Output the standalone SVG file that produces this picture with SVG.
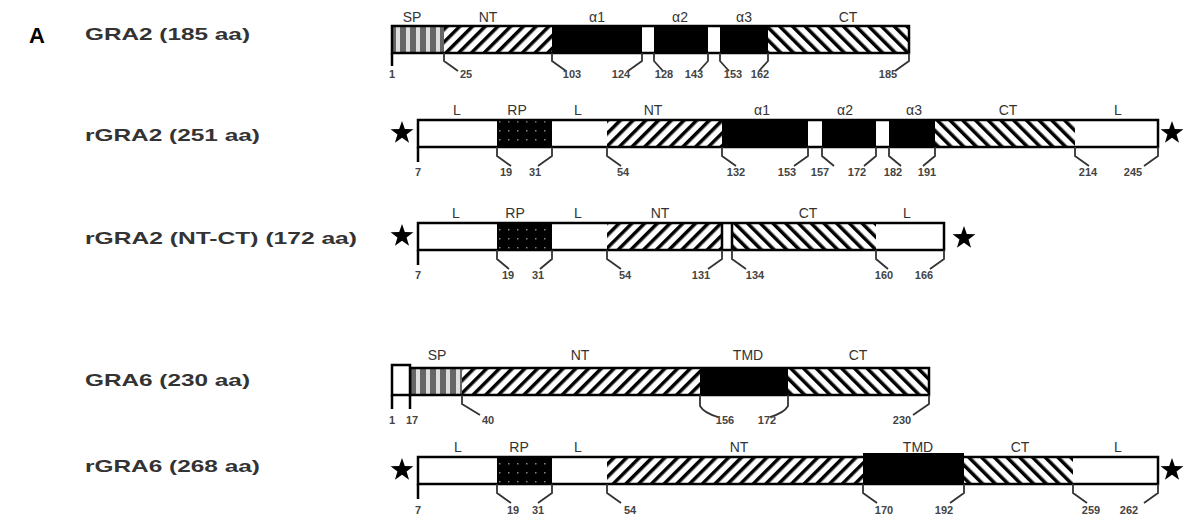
<svg xmlns="http://www.w3.org/2000/svg" xmlns:xlink="http://www.w3.org/1999/xlink" width="1192" height="523" viewBox="0 0 1192 523">
<style>
.title{font-family:"Liberation Sans",Arial,sans-serif;font-weight:bold;font-size:17px;fill:#333}
.lab{font-family:"Liberation Sans",Arial,sans-serif;font-size:14px;fill:#333;text-anchor:middle}
.num{font-family:"Liberation Sans",Arial,sans-serif;font-weight:bold;font-size:11px;fill:#444;text-anchor:middle}
.box{stroke:#000;stroke-width:2.5}
.tick{fill:none;stroke:#333;stroke-width:1.8}
.vt{fill:none;stroke:#000;stroke-width:2.5}
</style>
<defs>
<pattern id="fwd" patternUnits="userSpaceOnUse" width="9" height="9" patternTransform="rotate(45)">
<rect width="9" height="9" fill="#fff"/><rect width="3.5" height="9" fill="#000"/>
</pattern>
<pattern id="bck" patternUnits="userSpaceOnUse" width="9" height="9" patternTransform="rotate(-45)">
<rect width="9" height="9" fill="#fff"/><rect width="3.5" height="9" fill="#000"/>
</pattern>
<pattern id="sp" patternUnits="userSpaceOnUse" width="10" height="10">
<rect width="10" height="10" fill="#ddd"/><rect width="6" height="10" fill="#666"/>
</pattern>
<pattern id="rp" patternUnits="userSpaceOnUse" width="9" height="9">
<rect width="9" height="9" fill="#000"/><rect x="4" y="4" width="1.5" height="1.5" fill="#888"/>
</pattern>
<path id="star" d="M0,-12 L2.82,-3.88 L11.41,-3.71 L4.56,1.48 L7.05,9.71 L0,4.8 L-7.05,9.71 L-4.56,1.48 L-11.41,-3.71 L-2.82,-3.88 Z" fill="#000"/>
</defs>
<rect width="1192" height="523" fill="#fff"/>
<text x="29" y="43" style="font-family:'Liberation Sans',Arial,sans-serif;font-weight:bold;font-size:22px;fill:#000">A</text>

<!-- Row 1: GRA2 -->
<g id="gra2">
<text class="title" x="85" y="40" textLength="165" lengthAdjust="spacingAndGlyphs">GRA2 (185 aa)</text>
<rect x="392" y="26" width="52" height="27" fill="url(#sp)"/>
<rect x="444" y="26" width="108" height="27" fill="url(#fwd)"/>
<rect x="552" y="26" width="90" height="27" fill="#000"/>
<rect x="654" y="26" width="54" height="27" fill="#000"/>
<rect x="720" y="26" width="48" height="27" fill="#000"/>
<rect x="768" y="26" width="141" height="27" fill="url(#bck)"/>
<rect x="392" y="26" width="517" height="27" fill="none" class="box"/>
<text class="lab" x="412" y="22">SP</text>
<text class="lab" x="488" y="22">NT</text>
<text class="lab" x="597" y="22">α1</text>
<text class="lab" x="680" y="22">α2</text>
<text class="lab" x="744" y="22">α3</text>
<text class="lab" x="848" y="22">CT</text>
<path class="vt" d="M392,53 v13"/>
<path class="tick" d="M444,53 v8 l14,10 M552,53 v8 l14,10 M642,53 v8 l-14,10 M654,53 v8 l9,10 M708,53 v8 l-9,10 M720,53 v8 l9,10 M768,53 v8 l-9,10 M909,53 v8 l-14,10"/>
<text class="num" x="392" y="78">1</text>
<text class="num" x="466" y="78">25</text>
<text class="num" x="572" y="78">103</text>
<text class="num" x="621" y="78">124</text>
<text class="num" x="664" y="78">128</text>
<text class="num" x="694" y="78">143</text>
<text class="num" x="733" y="78">153</text>
<text class="num" x="760" y="78">162</text>
<text class="num" x="888" y="78">185</text>
</g>

<!-- Row 2: rGRA2 -->
<g id="rgra2">
<text class="title" x="85" y="141" textLength="175" lengthAdjust="spacingAndGlyphs">rGRA2 (251 aa)</text>
<use xlink:href="#star" x="402" y="133"/>
<use xlink:href="#star" x="1172" y="133"/>
<rect x="497" y="120" width="55" height="27" fill="url(#rp)"/>
<rect x="607" y="120" width="115" height="27" fill="url(#fwd)"/>
<rect x="722" y="120" width="86" height="27" fill="#000"/>
<rect x="822" y="120" width="54" height="27" fill="#000"/>
<rect x="889" y="120" width="46" height="27" fill="#000"/>
<rect x="935" y="120" width="140" height="27" fill="url(#bck)"/>
<rect x="418" y="120" width="740" height="27" fill="none" class="box"/>
<text class="lab" x="457" y="115">L</text>
<text class="lab" x="517" y="115">RP</text>
<text class="lab" x="578" y="115">L</text>
<text class="lab" x="653" y="115">NT</text>
<text class="lab" x="762" y="115">α1</text>
<text class="lab" x="845" y="115">α2</text>
<text class="lab" x="914" y="115">α3</text>
<text class="lab" x="1008" y="115">CT</text>
<text class="lab" x="1118" y="115">L</text>
<path class="vt" d="M418,147 v15"/>
<path class="tick" d="M497,147 v9 l14,10 M552,147 v9 l-14,10 M607,147 v9 l14,10 M722,147 v9 l14,10 M808,147 v9 l-14,10 M822,147 v9 l12,10 M876,147 v9 l-12,10 M889,147 v9 l12,10 M935,147 v9 l-12,10 M1075,147 v9 l14,10 M1158,147 v9 l-14,10"/>
<text class="num" x="418" y="176">7</text>
<text class="num" x="506" y="176">19</text>
<text class="num" x="535" y="176">31</text>
<text class="num" x="623" y="176">54</text>
<text class="num" x="736" y="176">132</text>
<text class="num" x="787" y="176">153</text>
<text class="num" x="820" y="176">157</text>
<text class="num" x="857" y="176">172</text>
<text class="num" x="893" y="176">182</text>
<text class="num" x="927" y="176">191</text>
<text class="num" x="1088" y="176">214</text>
<text class="num" x="1133" y="176">245</text>
</g>

<!-- Row 3: rGRA2 (NT-CT) -->
<g id="rgra2ntct">
<text class="title" x="85" y="244" textLength="272" lengthAdjust="spacingAndGlyphs">rGRA2 (NT-CT) (172 aa)</text>
<use xlink:href="#star" x="402" y="236"/>
<use xlink:href="#star" x="964" y="238"/>
<rect x="497" y="223" width="55" height="27" fill="url(#rp)"/>
<rect x="607" y="223" width="115" height="27" fill="url(#fwd)"/>
<rect x="732" y="223" width="144" height="27" fill="url(#bck)"/>
<rect x="418" y="223" width="526" height="27" fill="none" class="box"/>
<path class="vt" d="M722,223 v27 M732,223 v27"/>
<text class="lab" x="456" y="218">L</text>
<text class="lab" x="515" y="218">RP</text>
<text class="lab" x="578" y="218">L</text>
<text class="lab" x="660" y="218">NT</text>
<text class="lab" x="808" y="218">CT</text>
<text class="lab" x="907" y="218">L</text>
<path class="vt" d="M418,250 v15"/>
<path class="tick" d="M497,250 v9 l12,10 M552,250 v9 l-12,10 M607,250 v9 l14,10 M722,250 v9 l-14,10 M732,250 v9 l14,10 M876,250 v9 l12,10 M944,250 v9 l-14,10"/>
<text class="num" x="418" y="279">7</text>
<text class="num" x="508" y="279">19</text>
<text class="num" x="538" y="279">31</text>
<text class="num" x="625" y="279">54</text>
<text class="num" x="701" y="279">131</text>
<text class="num" x="755" y="279">134</text>
<text class="num" x="884" y="279">160</text>
<text class="num" x="924" y="279">166</text>
</g>

<!-- Row 4: GRA6 -->
<g id="gra6">
<text class="title" x="85" y="386" textLength="165" lengthAdjust="spacingAndGlyphs">GRA6 (230 aa)</text>
<rect x="410" y="368" width="52" height="27" fill="url(#sp)"/>
<rect x="462" y="368" width="238" height="27" fill="url(#fwd)"/>
<rect x="700" y="368" width="88" height="27" fill="#000"/>
<rect x="788" y="368" width="141" height="27" fill="url(#bck)"/>
<rect x="410" y="368" width="519" height="27" fill="none" class="box"/>
<rect x="392" y="365" width="18" height="30" fill="#fff" class="box"/>
<path class="vt" d="M392,395 v14 M410,395 v14"/>
<text class="lab" x="437" y="360">SP</text>
<text class="lab" x="580" y="360">NT</text>
<text class="lab" x="748" y="360">TMD</text>
<text class="lab" x="858" y="360">CT</text>
<path class="tick" d="M462,395 v9 l18,11 M700,395 v11 q4,7 18,11 M788,395 v11 q-4,7 -18,11 M929,395 v9 l-16,11"/>
<text class="num" x="392" y="424">1</text>
<text class="num" x="412" y="424">17</text>
<text class="num" x="488" y="424">40</text>
<text class="num" x="725" y="424">156</text>
<text class="num" x="767" y="424">172</text>
<text class="num" x="902" y="424">230</text>
</g>

<!-- Row 5: rGRA6 -->
<g id="rgra6">
<text class="title" x="85" y="472" textLength="175" lengthAdjust="spacingAndGlyphs">rGRA6 (268 aa)</text>
<use xlink:href="#star" x="402" y="470"/>
<use xlink:href="#star" x="1172" y="470"/>
<rect x="497" y="457" width="55" height="27" fill="url(#rp)"/>
<rect x="607" y="457" width="256" height="27" fill="url(#fwd)"/>
<rect x="964" y="457" width="109" height="27" fill="url(#bck)"/>
<rect x="418" y="457" width="740" height="27" fill="none" class="box"/>
<rect x="863" y="453" width="101" height="31" fill="#000"/>
<text class="lab" x="458" y="452">L</text>
<text class="lab" x="519" y="452">RP</text>
<text class="lab" x="578" y="452">L</text>
<text class="lab" x="739" y="452">NT</text>
<text class="lab" x="918" y="452">TMD</text>
<text class="lab" x="1020" y="452">CT</text>
<text class="lab" x="1118" y="452">L</text>
<path class="vt" d="M418,484 v15"/>
<path class="tick" d="M497,484 v9 l14,10 M552,484 v9 l-14,10 M607,484 v9 l14,10 M863,484 v9 l14,10 M964,484 v9 l-14,10 M1073,484 v9 l14,10 M1158,484 v9 l-14,10"/>
<text class="num" x="418" y="514">7</text>
<text class="num" x="513" y="514">19</text>
<text class="num" x="538" y="514">31</text>
<text class="num" x="630" y="514">54</text>
<text class="num" x="884" y="514">170</text>
<text class="num" x="944" y="514">192</text>
<text class="num" x="1091" y="514">259</text>
<text class="num" x="1129" y="514">262</text>
</g>
</svg>
